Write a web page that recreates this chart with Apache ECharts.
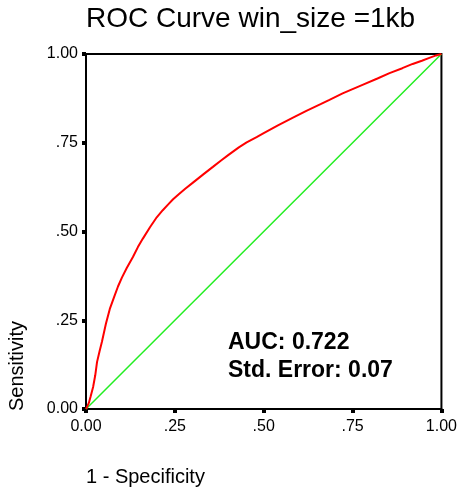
<!DOCTYPE html>
<html>
<head>
<meta charset="utf-8">
<script src="https://cdn.jsdelivr.net/npm/echarts@6/dist/echarts.min.js"></script>
<style>
  html, body { margin: 0; padding: 0; background: #fff; }
  #chart { width: 460px; height: 495px; }
</style>
</head>
<body>
<div id="chart"></div>
<script>
// ROC curve points: false positive rate (1 - specificity) and sensitivity
const fpr = [0, 0.004, 0.008, 0.013, 0.020, 0.026, 0.031, 0.038, 0.045, 0.056,
  0.067, 0.080, 0.090, 0.101, 0.115, 0.132, 0.146, 0.160, 0.180, 0.199,
  0.216, 0.230, 0.245, 0.261, 0.280, 0.300, 0.330, 0.357, 0.380, 0.400,
  0.430, 0.452, 0.480, 0.500, 0.540, 0.581, 0.620, 0.660, 0.685, 0.722,
  0.750, 0.778, 0.820, 0.854, 0.890, 0.919, 0.945, 0.966, 0.985, 1];
const tpr = [0, 0.008, 0.017, 0.035, 0.062, 0.095, 0.132, 0.162, 0.190, 0.240,
  0.282, 0.318, 0.345, 0.370, 0.398, 0.428, 0.456, 0.480, 0.512, 0.540,
  0.560, 0.575, 0.591, 0.605, 0.621, 0.637, 0.661, 0.682, 0.700, 0.715,
  0.737, 0.751, 0.766, 0.777, 0.799, 0.820, 0.840, 0.859, 0.871, 0.889,
  0.901, 0.913, 0.931, 0.946, 0.960, 0.972, 0.981, 0.989, 0.996, 1];
// Reference (chance) line
const refX = [0, 1];
const refY = [0, 1];
const tickLabels = ['0.00', '.25', '.50', '.75', '1.00'];
const auc = '0.722';
const stdError = '0.07';

const FONT = '"Liberation Sans", Arial, sans-serif';
const fmt = v => tickLabels[Math.round(v / 0.25)];

const chart = echarts.init(document.getElementById('chart'));
chart.setOption({
  animation: false,
  backgroundColor: '#fff',
  graphic: [
    {
      type: 'text', x: 86, y: 5,
      style: { text: 'ROC Curve win_size =1kb', font: '28px ' + FONT, fill: '#000' }
    },
    {
      type: 'text', x: 228, y: 331,
      style: { text: 'AUC: ' + auc, font: 'bold 23px ' + FONT, fill: '#000' }
    },
    {
      type: 'text', x: 228, y: 359,
      style: { text: 'Std. Error: ' + stdError, font: 'bold 23px ' + FONT, fill: '#000' }
    },
    {
      type: 'text', x: 86, y: 467,
      style: { text: '1 - Specificity', font: '20px ' + FONT, fill: '#000' }
    },
    {
      type: 'text', x: 7, y: 411, rotation: Math.PI / 2,
      style: { text: 'Sensitivity', font: '20px ' + FONT, fill: '#000' }
    }
  ],
  grid: {
    left: 86, top: 54, right: 18, bottom: 86,
    show: true, borderColor: '#000', borderWidth: 2, backgroundColor: '#fff'
  },
  xAxis: {
    type: 'value', min: 0, max: 1, interval: 0.25,
    axisLine: { lineStyle: { color: '#000', width: 2 } },
    axisTick: { length: 4, lineStyle: { color: '#000', width: 4 } },
    axisLabel: { formatter: fmt, color: '#000', fontFamily: FONT, fontSize: 16, margin: 10 },
    splitLine: { show: false }
  },
  yAxis: {
    type: 'value', min: 0, max: 1, interval: 0.25,
    axisLine: { lineStyle: { color: '#000', width: 2 } },
    axisTick: { length: 4, lineStyle: { color: '#000', width: 4 } },
    axisLabel: { formatter: fmt, color: '#000', fontFamily: FONT, fontSize: 16, margin: 8 },
    splitLine: { show: false }
  },
  series: [
    {
      type: 'line', data: refX.map((x, i) => [x, refY[i]]),
      symbol: 'none', lineStyle: { color: '#22ee22', width: 1.5 }, z: 2
    },
    {
      type: 'line', data: fpr.map((x, i) => [x, tpr[i]]),
      symbol: 'none', lineStyle: { color: '#ff0000', width: 2 }, z: 3
    }
  ]
});
</script>
</body>
</html>
